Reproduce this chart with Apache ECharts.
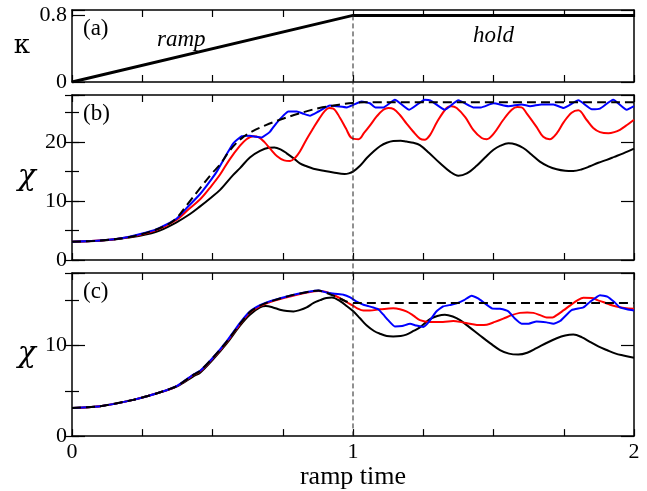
<!DOCTYPE html>
<html>
<head>
<meta charset="utf-8">
<script src="https://cdn.jsdelivr.net/npm/echarts@6/dist/echarts.min.js"></script>
<style>
  html, body { margin: 0; padding: 0; background: #fff; }
  #chart { width: 647px; height: 491px; }
</style>
</head>
<body>
<div id="chart"></div>
<script>
// ---- data: [ramp time, value] ----
const kappa = [[0, 0], [1, 0.8], [2, 0.8]];

const bBlack = [[0,3.1],[0.1,3.25],[0.2,3.8],[0.3,4.8],[0.372,6.4],[0.42,7.8],[0.456,9.1],[0.49,10.4],[0.527,11.9],[0.573,14.4],[0.598,15.6],[0.633,17.4],[0.669,18.5],[0.7,19.05],[0.72,19.1],[0.745,18.7],[0.764,18.1],[0.79,17.2],[0.811,16.4],[0.835,15.9],[0.859,15.5],[0.9,15.1],[0.93,14.85],[0.97,14.6],[0.985,14.7],[1.0,15.0],[1.025,16.0],[1.049,17.3],[1.075,18.5],[1.096,19.3],[1.12,19.9],[1.143,20.2],[1.17,20.25],[1.19,20.1],[1.215,19.9],[1.238,19.5],[1.27,18.2],[1.31,16.4],[1.345,15.0],[1.375,14.3],[1.405,14.7],[1.44,16.0],[1.47,17.4],[1.5,18.7],[1.525,19.4],[1.553,19.8],[1.58,19.6],[1.606,19.0],[1.635,17.9],[1.665,16.7],[1.695,15.9],[1.725,15.4],[1.755,15.15],[1.784,15.1],[1.815,15.4],[1.843,15.9],[1.873,16.5],[1.903,17.0],[1.93,17.5],[1.962,18.1],[2.0,18.9]];

const bRed = [[0,3.1],[0.1,3.3],[0.2,3.85],[0.3,5.1],[0.372,6.8],[0.41,8.4],[0.456,10.3],[0.49,12.2],[0.527,14.5],[0.56,17.0],[0.598,19.4],[0.621,20.5],[0.645,21.0],[0.665,20.8],[0.685,20.0],[0.705,18.9],[0.73,17.6],[0.755,16.9],[0.776,16.8],[0.795,17.4],[0.811,18.4],[0.835,20.5],[0.859,22.4],[0.88,24.0],[0.9,25.3],[0.915,25.8],[0.93,25.7],[0.954,24.1],[0.975,22.3],[0.995,20.7],[1.02,20.5],[1.04,21.6],[1.06,22.8],[1.085,24.4],[1.108,25.5],[1.126,25.8],[1.145,25.6],[1.167,24.6],[1.19,23.2],[1.214,21.8],[1.238,20.6],[1.255,20.4],[1.274,21.2],[1.3,23.5],[1.333,25.8],[1.35,26.1],[1.369,25.8],[1.4,24.2],[1.428,22.1],[1.458,20.7],[1.476,20.5],[1.5,21.4],[1.535,23.8],[1.565,25.5],[1.585,25.95],[1.6,25.9],[1.618,24.9],[1.653,22.6],[1.677,20.9],[1.7,20.5],[1.725,21.5],[1.75,23.4],[1.778,25.0],[1.802,25.4],[1.831,23.8],[1.855,22.4],[1.879,21.7],[1.909,21.5],[1.93,21.7],[1.95,22.1],[1.975,22.9],[2.0,23.8]];

const bBlue = [[0,3.1],[0.1,3.3],[0.2,3.9],[0.3,5.2],[0.372,7.0],[0.41,8.9],[0.456,11.2],[0.49,13.3],[0.515,15.0],[0.545,17.5],[0.574,19.8],[0.604,21.0],[0.633,21.1],[0.655,20.9],[0.675,20.8],[0.692,21.3],[0.705,21.8],[0.727,23.2],[0.752,24.5],[0.77,25.2],[0.8,25.2],[0.825,24.8],[0.847,24.5],[0.877,25.2],[0.918,26.2],[0.942,26.1],[0.978,25.9],[1.0,26.3],[1.03,26.9],[1.06,26.6],[1.08,25.9],[1.108,25.9],[1.149,27.2],[1.2,25.5],[1.256,27.2],[1.275,27.1],[1.327,25.5],[1.375,27.1],[1.428,25.9],[1.455,25.9],[1.5,26.6],[1.553,26.1],[1.6,26.4],[1.63,26.1],[1.671,26.4],[1.713,26.4],[1.749,25.8],[1.802,27.1],[1.85,25.6],[1.879,25.7],[1.926,27.2],[1.974,25.5],[2.0,26.1]];

const bDash = [[0,3.1],[0.1,3.3],[0.2,3.85],[0.28,4.85],[0.34,6.0],[0.37,7.0],[0.41,9.4],[0.456,12.2],[0.5,14.8],[0.527,16.2],[0.557,18.3],[0.586,19.9],[0.61,20.9],[0.64,21.8],[0.69,22.9],[0.74,23.8],[0.79,24.6],[0.84,25.3],[0.88,25.8],[0.93,26.2],[0.97,26.5],[1.0,26.65],[1.04,26.75],[2.0,26.75]];

const cBlack = [[0,3.1],[0.1,3.3],[0.218,4.0],[0.3,4.7],[0.372,5.45],[0.432,6.6],[0.456,7.0],[0.503,8.5],[0.55,10.2],[0.598,12.2],[0.633,13.4],[0.669,14.2],[0.69,14.35],[0.715,14.2],[0.74,13.95],[0.765,13.8],[0.788,13.75],[0.81,13.9],[0.835,14.2],[0.86,14.7],[0.883,15.0],[0.905,15.25],[0.925,15.3],[0.954,14.9],[0.98,14.3],[1.0,13.8],[1.025,13.0],[1.049,12.2],[1.075,11.6],[1.096,11.3],[1.12,11.05],[1.143,11.0],[1.17,11.05],[1.19,11.2],[1.215,11.6],[1.238,12.0],[1.274,12.9],[1.3,13.25],[1.327,13.4],[1.355,13.2],[1.381,12.8],[1.415,12.0],[1.452,11.1],[1.49,10.2],[1.523,9.5],[1.555,9.1],[1.588,9.0],[1.62,9.2],[1.653,9.7],[1.69,10.3],[1.725,10.8],[1.755,11.1],[1.784,11.2],[1.815,10.9],[1.843,10.4],[1.873,9.9],[1.903,9.5],[1.935,9.1],[1.962,8.9],[2.0,8.65]];

const cRed = [[0,3.1],[0.1,3.3],[0.218,4.0],[0.3,4.7],[0.372,5.5],[0.432,6.75],[0.456,7.15],[0.503,8.65],[0.55,10.35],[0.598,12.35],[0.633,13.65],[0.669,14.35],[0.705,14.8],[0.776,15.4],[0.847,15.9],[0.877,16.0],[0.905,15.9],[0.93,15.6],[0.955,15.2],[0.977,14.8],[1.0,14.4],[1.015,14.1],[1.037,13.85],[1.06,13.85],[1.096,14.0],[1.12,14.05],[1.143,14.1],[1.167,14.0],[1.19,13.76],[1.215,13.3],[1.238,12.8],[1.274,12.6],[1.32,12.6],[1.357,12.7],[1.39,12.55],[1.416,12.4],[1.452,12.25],[1.476,12.3],[1.505,12.6],[1.535,12.96],[1.565,13.35],[1.594,13.6],[1.62,13.65],[1.642,13.6],[1.67,13.3],[1.689,13.1],[1.71,13.1],[1.725,13.35],[1.75,13.9],[1.772,14.4],[1.8,15.0],[1.82,15.26],[1.85,15.25],[1.87,15.0],[1.89,14.8],[1.915,14.5],[1.937,14.3],[1.965,14.15],[2.0,14.05]];

const cBlue = [[0,3.1],[0.1,3.3],[0.218,4.0],[0.3,4.7],[0.372,5.5],[0.432,6.8],[0.456,7.2],[0.503,8.7],[0.55,10.45],[0.598,12.5],[0.633,13.75],[0.669,14.45],[0.705,14.9],[0.776,15.5],[0.847,15.95],[0.877,16.06],[0.906,15.85],[0.935,15.7],[0.966,15.6],[0.99,15.3],[1.015,14.8],[1.037,14.5],[1.072,14.2],[1.09,14.0],[1.108,13.4],[1.125,12.8],[1.149,12.1],[1.175,12.15],[1.203,12.4],[1.225,12.2],[1.25,12.05],[1.27,12.6],[1.295,13.7],[1.32,14.3],[1.35,14.5],[1.369,14.65],[1.395,15.0],[1.422,15.5],[1.445,15.2],[1.463,14.8],[1.494,14.1],[1.523,14.05],[1.553,13.76],[1.575,13.0],[1.6,12.4],[1.625,12.4],[1.653,12.66],[1.689,12.55],[1.713,12.4],[1.737,12.7],[1.778,13.9],[1.82,14.2],[1.843,14.8],[1.879,15.55],[1.905,15.4],[1.93,14.8],[1.95,14.2],[1.975,14.0],[2.0,13.87]];

const cDash = [[0,3.1],[0.1,3.3],[0.218,4.0],[0.3,4.7],[0.372,5.5],[0.432,6.75],[0.456,7.2],[0.503,8.7],[0.55,10.4],[0.598,12.4],[0.633,13.7],[0.669,14.4],[0.705,14.85],[0.776,15.5],[0.847,15.95],[0.877,16.06],[0.93,15.5],[0.977,14.85],[1.0,14.7],[2.0,14.7]];

// ---- axis settings per panel ----
const rampEnd = 1;             // end of the ramp / start of hold
const kappaHold = 0.8;
const panelYMax = [0.865, 28, 18];
const panelYStep = [0.8, 10, 10];
const panelYMinorStep = [null, 5, 5];
const panelYName = ['κ', 'χ', 'χ'];
const panelTags = ['(a)', '(b)', '(c)'];
const xTickLabels = [0, 1, 2];

const FONT = 'Liberation Serif';
const INK = '#000';
const grids = [
  { left: 72, width: 562, top: 10,  height: 72 },
  { left: 72, width: 562, top: 95,  height: 165 },
  { left: 72, width: 562, top: 273, height: 165 }
];

const xAxes = [];
const yAxes = [];
const yMain = [];   // index of the labelled left y axis for each panel

grids.forEach((g, i) => {
  const isLast = i === grids.length - 1;
  ['bottom', 'top'].forEach(pos => {
    xAxes.push({
      type: 'value', gridIndex: i, position: pos, min: 0, max: 2, interval: 1,
      axisLine: { show: true, onZero: false, lineStyle: { color: INK, width: 1.5 } },
      axisTick: { show: true, inside: true, length: 7, lineStyle: { color: INK, width: 1.2 } },
      minorTick: { show: true, splitNumber: 4, length: 7, lineStyle: { color: INK, width: 1.2 } },
      splitLine: { show: false },
      axisLabel: {
        show: isLast && pos === 'bottom', margin: 5,
        fontFamily: FONT, fontSize: 22, color: INK,
        formatter: v => xTickLabels.includes(v) ? String(v) : ''
      },
      name: (isLast && pos === 'bottom') ? 'ramp time' : '',
      nameLocation: 'middle', nameGap: 24,
      nameTextStyle: { fontFamily: FONT, fontSize: 26, color: INK }
    });
  });

  const step = panelYStep[i];
  const fmt = v => {
    const r = v / step;
    if (Math.abs(r - Math.round(r)) > 1e-6) return '';
    return String(Math.round(r * step * 10) / 10);
  };
  ['left', 'right'].forEach(pos => {
    if (pos === 'left') yMain[i] = yAxes.length;
    yAxes.push({
      type: 'value', gridIndex: i, position: pos, min: 0, max: panelYMax[i], interval: step,
      axisLine: { show: true, onZero: false, lineStyle: { color: INK, width: 1.5 } },
      axisTick: { show: true, inside: true, length: 13, lineStyle: { color: INK, width: 1.2 } },
      splitLine: { show: false },
      axisLabel: {
        show: pos === 'left', margin: 5, fontFamily: FONT, fontSize: 22, color: INK,
        formatter: fmt
      },
      name: pos === 'left' ? panelYName[i] : '',
      nameLocation: 'middle', nameRotate: 0, nameGap: i === 0 ? 42 : 36,
      nameTextStyle: i === 0
        ? { fontFamily: 'DejaVu Serif', fontSize: 26, color: INK }
        : { fontFamily: 'DejaVu Serif', fontStyle: 'italic', fontSize: 30, color: INK }
    });
    if (panelYMinorStep[i]) {
      yAxes.push({
        type: 'value', gridIndex: i, position: pos, min: 0, max: panelYMax[i],
        interval: panelYMinorStep[i],
        axisLine: { show: false },
        axisTick: { show: true, inside: true, length: 7, lineStyle: { color: INK, width: 1.2 } },
        splitLine: { show: false },
        axisLabel: { show: false }
      });
    }
  });
});

function line(data, panel, color, opts) {
  opts = opts || {};
  return {
    type: 'line', data: data,
    xAxisIndex: panel * 2, yAxisIndex: yMain[panel],
    showSymbol: false, symbol: 'none', smooth: opts.smooth ?? 0.35,
    silent: true, animation: false,
    lineStyle: { color: color, width: opts.width || 2, type: opts.dash || 'solid' },
    z: opts.z || 2
  };
}

const series = [
  line(kappa, 0, INK, { width: 3, smooth: false }),
  line(bBlack, 1, INK),
  line(bRed, 1, '#ff0000'),
  line(bBlue, 1, '#0000ff', { smooth: 0.15 }),
  line(bDash, 1, INK, { dash: [9, 5], z: 3 }),
  line(cBlack, 2, INK),
  line(cRed, 2, '#ff0000'),
  line(cBlue, 2, '#0000ff', { smooth: 0.15 }),
  line(cDash, 2, INK, { dash: [9, 5], smooth: 0.2, z: 3 })
];

const tagGraphics = panelTags.map((t, i) => ({
  type: 'text', id: 'tag' + i, z: 20,
  style: { text: t, x: 83, y: grids[i].top + 19, fontFamily: FONT, fontSize: 23,
           fill: INK, textVerticalAlign: 'middle' }
}));

const chart = echarts.init(document.getElementById('chart'), null, { renderer: 'canvas' });
chart.setOption({
  animation: false,
  backgroundColor: '#fff',
  grid: grids,
  xAxis: xAxes,
  yAxis: yAxes,
  series: series,
  graphic: tagGraphics.concat([
    { type: 'text', id: 'rampTxt', z: 20,
      style: { text: 'ramp', x: 157, y: 40, fontFamily: FONT, fontStyle: 'italic',
               fontSize: 23, fill: INK, textVerticalAlign: 'middle' } },
    { type: 'text', id: 'holdTxt', z: 20,
      style: { text: 'hold', x: 473, y: 36, fontFamily: FONT, fontStyle: 'italic',
               fontSize: 23, fill: INK, textVerticalAlign: 'middle' } }
  ])
});

// vertical dashed marker at the end of the ramp, spanning all panels
const xPix = chart.convertToPixel({ xAxisIndex: 0 }, rampEnd);
const yTop = chart.convertToPixel({ yAxisIndex: yMain[0] }, kappaHold);
const yBot = chart.convertToPixel({ yAxisIndex: yMain[2] }, 0);
chart.setOption({
  graphic: [{
    type: 'line', id: 'rampEndLine', z: 15, silent: true,
    shape: { x1: xPix, y1: yTop, x2: xPix, y2: yBot },
    style: { stroke: '#222', lineWidth: 1, lineDash: [5, 3] }
  }]
});
</script>
</body>
</html>
